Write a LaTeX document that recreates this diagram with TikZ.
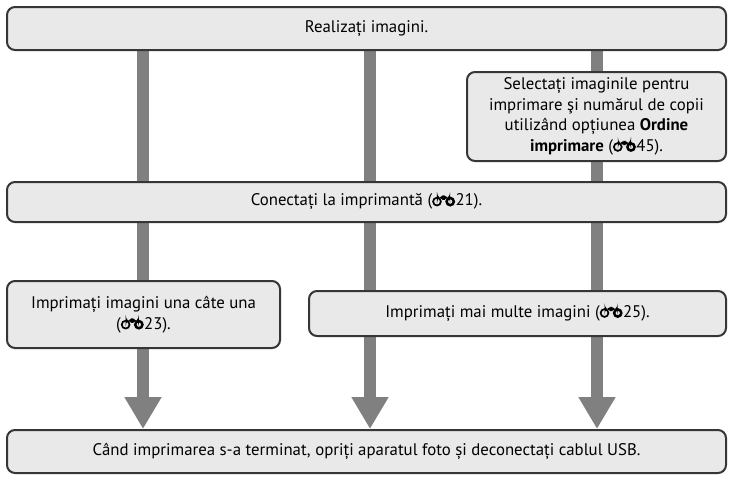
\documentclass[tikz,border=0pt]{standalone}
\usepackage{fontspec}
\setmainfont{PT Sans}
\usetikzlibrary{arrows.meta}
\definecolor{boxfill}{HTML}{E9E9E9}
\definecolor{boxline}{HTML}{363636}
\definecolor{barcol}{HTML}{808080}
\pgfdeclarelayer{bg}
\pgfsetlayers{bg,main}
\newcommand{\refic}{\tikz[baseline=0pt,x=1pt,y=1pt]{\draw[line width=1.7pt] (5,4.4) circle (3.9); \draw[line width=2.5pt] (18.2,4.4) circle (3.6); \fill[black] (5,6.2) rectangle (18.2,10.6);}\kern0.5pt}
\begin{document}
\begin{tikzpicture}[x=1pt,y=-1pt,
  box/.style={draw=boxline, fill=boxfill, line width=2pt, rounded corners=8pt, inner sep=0pt, align=center, font=\fontsize{16.8}{20.5}\selectfont},
  flow/.style={draw=barcol, line width=12.5pt, -{Triangle[width=35pt,length=32pt]}}]
\useasboundingbox (0,0) rectangle (732,480);
\node[box, minimum width=719pt, minimum height=43pt] (b1) at (366.5,28.5) {Realizați imagini.};
\node[box, minimum width=259pt, minimum height=89pt] (b2) at (596.5,116.5) {Selectați imaginile pentru\\imprimare şi numărul de copii\\utilizând opțiunea \textbf{Ordine}\\\textbf{imprimare} (\refic45).};
\node[box, minimum width=719pt, minimum height=40pt] (b3) at (366.5,202) {Conectați la imprimantă (\refic21).};
\node[box, minimum width=273pt, minimum height=67pt] (b4) at (143.5,314.5) {Imprimați imagini una câte una\\(\refic23).};
\node[box, minimum width=417pt, minimum height=45pt] (b5) at (517.5,313.5) {Imprimați mai multe imagini (\refic25).};
\node[box, minimum width=719pt, minimum height=43pt] (b6) at (366.5,451.5) {Când imprimarea s-a terminat, opriți aparatul foto și deconectați cablul USB.};
\coordinate (c1) at (143,0);
\coordinate (c2) at (370,0);
\coordinate (c3) at (597,0);
\begin{pgfonlayer}{bg}
\draw[flow] (b1.south -| c1) -- (b6.north -| c1);
\draw[flow] (b1.south -| c2) -- (b6.north -| c2);
\draw[flow] (b1.south -| c3) -- (b6.north -| c3);
\end{pgfonlayer}
\end{tikzpicture}
\end{document}
